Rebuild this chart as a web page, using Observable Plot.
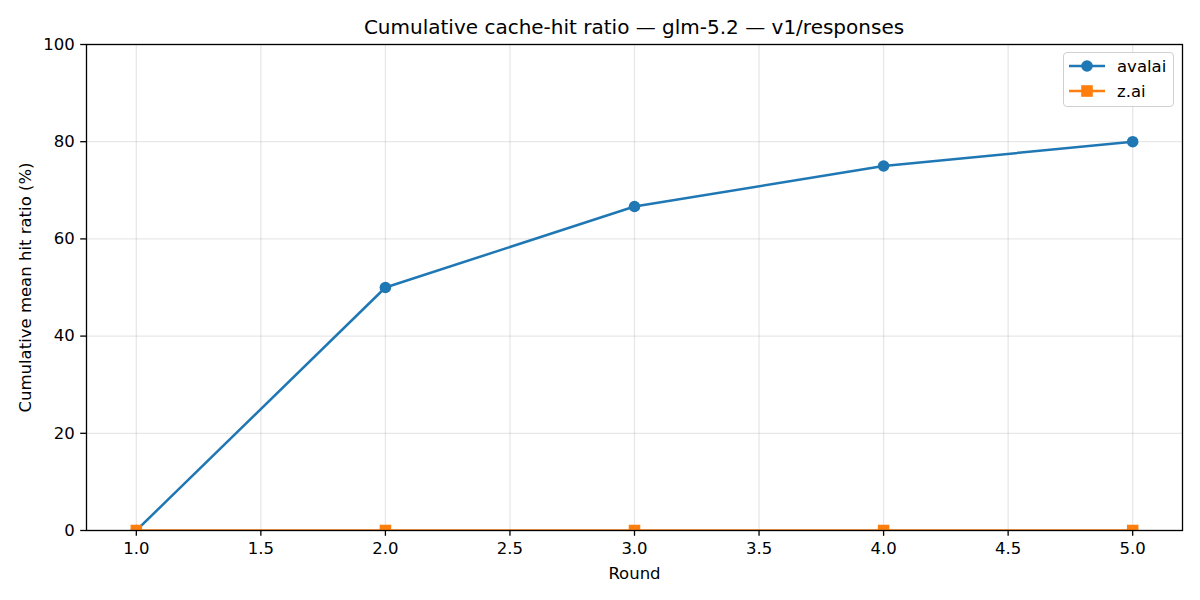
<!DOCTYPE html>
<html>
<head>
<meta charset="utf-8">
<script src="https://cdn.jsdelivr.net/npm/d3@7"></script>
<script src="https://cdn.jsdelivr.net/npm/@observablehq/plot@0.6"></script>
<style>
  html, body { margin: 0; padding: 0; background: #fff; }
  body { font-family: "DejaVu Sans", sans-serif; }
  #wrap { position: relative; width: 1200px; height: 600px; }
  #title { height: 40px; box-sizing: border-box; padding-left: 86px; padding-right: 18px;
           text-align: center; font-size: 20px; line-height: 20px; padding-top: 17px; color: #000; white-space: nowrap; }
  #legend { position: absolute; left: 1063px; top: 52px; width: 111px; height: 55px; box-sizing: border-box;
            border: 1px solid #d0d0d0; border-radius: 4px; background: rgba(255,255,255,0.8);
            font-size: 16.5px; }
  .row { position: absolute; left: 0; height: 20px; display: flex; align-items: center; }
  .row svg { margin-left: 5px; }
  .row span { margin-left: 12px; }
</style>
</head>
<body>
<div id="wrap">
  <div id="title">Cumulative cache-hit ratio — glm-5.2 — v1/responses</div>
  <div id="chart"></div>
  <div id="legend"></div>
</div>
<script>
const rounds = [1, 2, 3, 4, 5];
const seriesNames = ["avalai", "z.ai"];
const avalaiValues = [0, 50, 66.67, 75, 80];
const zaiValues = [0, 0, 0, 0, 0];
const xTicks = [1, 1.5, 2, 2.5, 3, 3.5, 4, 4.5, 5];
const yTicks = [0, 20, 40, 60, 80, 100];
const colors = ["#1f77b4", "#ff7f0e"];

const data = [
  ...rounds.map((r, i) => ({round: r, value: avalaiValues[i], series: seriesNames[0]})),
  ...rounds.map((r, i) => ({round: r, value: zaiValues[i], series: seriesNames[1]}))
];
const avalai = data.filter(d => d.series === "avalai");
const zai = data.filter(d => d.series === "z.ai");

const chart = Plot.plot({
  width: 1200,
  height: 560,
  marginTop: 4,
  marginBottom: 70,
  marginLeft: 86,
  marginRight: 18,
  style: {fontFamily: "DejaVu Sans, sans-serif", fontSize: "16.5px", color: "black", background: "white", overflow: "visible"},
  x: {domain: [0.8, 5.2]},
  y: {domain: [0, 100]},
  marks: [
    Plot.gridX(xTicks, {stroke: "#b0b0b0", strokeOpacity: 0.3, strokeWidth: 1.3}),
    Plot.gridY(yTicks, {stroke: "#b0b0b0", strokeOpacity: 0.3, strokeWidth: 1.3}),
    Plot.axisX({ticks: xTicks, tickFormat: d3.format(".1f"), tickSize: 5.8, tickPadding: 5.5, strokeWidth: 1.3,
                label: "Round", labelAnchor: "center", labelArrow: "none", labelOffset: 48, fontSize: 16.5}),
    Plot.axisY({ticks: yTicks, tickSize: 5.8, tickPadding: 6, strokeWidth: 1.3,
                label: "Cumulative mean hit ratio (%)", labelAnchor: "center", labelArrow: "none", labelOffset: 67, fontSize: 16.5}),
    Plot.line(avalai, {x: "round", y: "value", stroke: colors[0], strokeWidth: 2.5, clip: true}),
    Plot.dot(avalai, {x: "round", y: "value", fill: colors[0], r: 5.8, symbol: "circle", clip: true}),
    Plot.line(zai, {x: "round", y: "value", stroke: colors[1], strokeWidth: 2.5, clip: true}),
    Plot.dot(zai, {x: "round", y: "value", fill: colors[1], r: 6.5, symbol: "square", clip: true}),
    Plot.frame({stroke: "black", strokeWidth: 1.3})
  ]
});
document.getElementById("chart").appendChild(chart);

// legend
const legend = document.getElementById("legend");
seriesNames.forEach((name, i) => {
  const row = document.createElement("div");
  row.className = "row";
  row.style.top = (3 + i * 25) + "px";
  const marker = i === 0
    ? `<circle cx="18" cy="10" r="5.8" fill="${colors[i]}"/>`
    : `<rect x="12.2" y="4.2" width="11.6" height="11.6" fill="${colors[i]}"/>`;
  row.innerHTML = `<svg width="36" height="20"><line x1="0" x2="36" y1="10" y2="10" stroke="${colors[i]}" stroke-width="2.5"/>${marker}</svg><span>${name}</span>`;
  legend.appendChild(row);
});
</script>
</body>
</html>
